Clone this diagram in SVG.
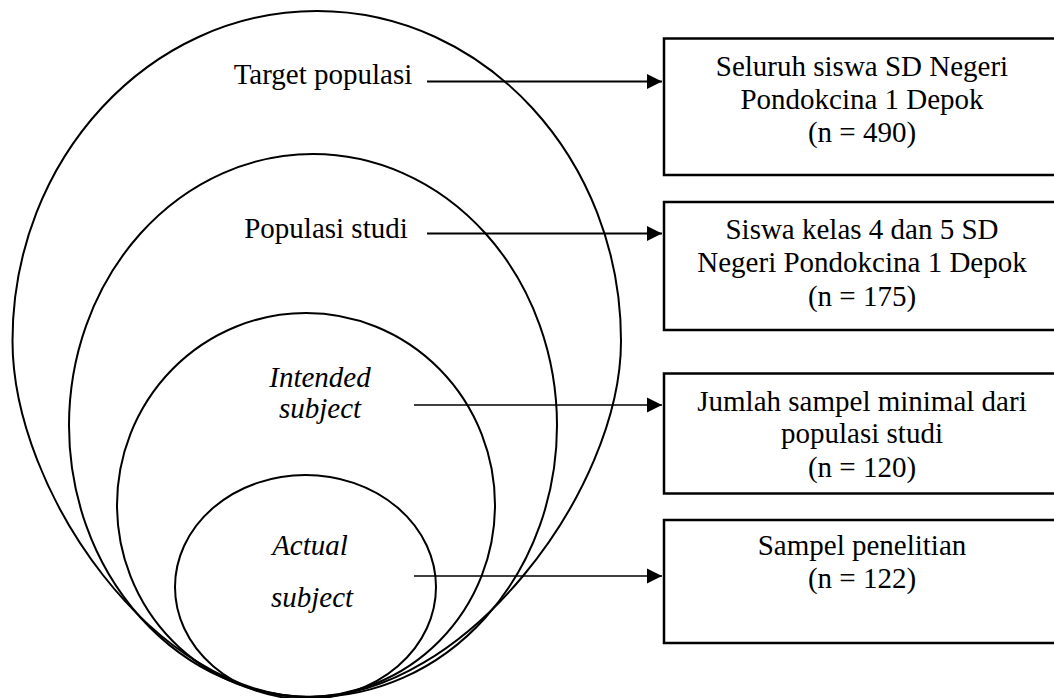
<svg xmlns="http://www.w3.org/2000/svg" width="1054" height="698" viewBox="0 0 1054 698">
<defs>
<style>
.ring{fill:none;stroke:#000;stroke-width:2}
.box{fill:#fff;stroke:#000;stroke-width:2.5}
.t{font-family:"Liberation Serif","Times New Roman",serif;font-size:29px;fill:#000;text-anchor:middle}
.i{font-style:italic}
.thick{stroke:#000;stroke-width:2.2;fill:none}
.thin{stroke:#000;stroke-width:1.3;fill:none}
</style>
<marker id="ah" markerUnits="userSpaceOnUse" markerWidth="16" markerHeight="16" refX="15" refY="8" orient="auto">
<path d="M0,0.5 L15,8 L0,15.5 Z" fill="#000"/>
</marker>
</defs>
<rect width="1054" height="698" fill="#fff"/>
<g id="target-populasi">
<path class="ring" d="M317,11 C485,11 621,159 621,341 C621,491 465,697 310,697 C155,697 12.5,491 12.5,341 C12.5,159 149,11 317,11 Z"/>
<text class="t" x="323" y="84">Target populasi</text>
</g>
<g id="populasi-studi">
<ellipse class="ring" cx="313" cy="425.5" rx="244" ry="271.5"/>
<text class="t" x="326" y="238">Populasi studi</text>
</g>
<g id="intended-subject">
<ellipse class="ring" cx="306" cy="505" rx="189" ry="192"/>
<text class="t i" x="320" y="387">Intended</text>
<text class="t i" x="320" y="418">subject</text>
</g>
<g id="actual-subject">
<ellipse class="ring" cx="305.5" cy="587" rx="130.5" ry="112"/>
<text class="t i" x="310" y="555">Actual</text>
<text class="t i" x="312" y="607">subject</text>
</g>
<g id="box-target">
<rect class="box" x="664" y="38.5" width="400" height="136.5"/>
<text class="t" x="862" y="76">Seluruh siswa SD Negeri</text>
<text class="t" x="862" y="108.5">Pondokcina 1 Depok</text>
<text class="t" x="862" y="141.5">(n = 490)</text>
</g>
<g id="box-studi">
<rect class="box" x="664" y="202" width="400" height="128"/>
<text class="t" x="862" y="239">Siswa kelas 4 dan 5 SD</text>
<text class="t" x="862" y="272">Negeri Pondokcina 1 Depok</text>
<text class="t" x="862" y="306">(n = 175)</text>
</g>
<g id="box-intended">
<rect class="box" x="664" y="373.5" width="400" height="120"/>
<text class="t" x="862" y="411">Jumlah sampel minimal dari</text>
<text class="t" x="862" y="443">populasi studi</text>
<text class="t" x="862" y="477">(n = 120)</text>
</g>
<g id="box-actual">
<rect class="box" x="664" y="520" width="400" height="123"/>
<text class="t" x="862" y="555">Sampel penelitian</text>
<text class="t" x="862" y="588">(n = 122)</text>
</g>
<g id="connectors">
<line class="thick" x1="427" y1="81.5" x2="662" y2="81.5" marker-end="url(#ah)"/>
<line class="thick" x1="427" y1="233.5" x2="662" y2="233.5" marker-end="url(#ah)"/>
<line class="thin" x1="414" y1="405" x2="662" y2="405" marker-end="url(#ah)"/>
<line class="thin" x1="414" y1="576" x2="662" y2="576" marker-end="url(#ah)"/>
</g>
</svg>
